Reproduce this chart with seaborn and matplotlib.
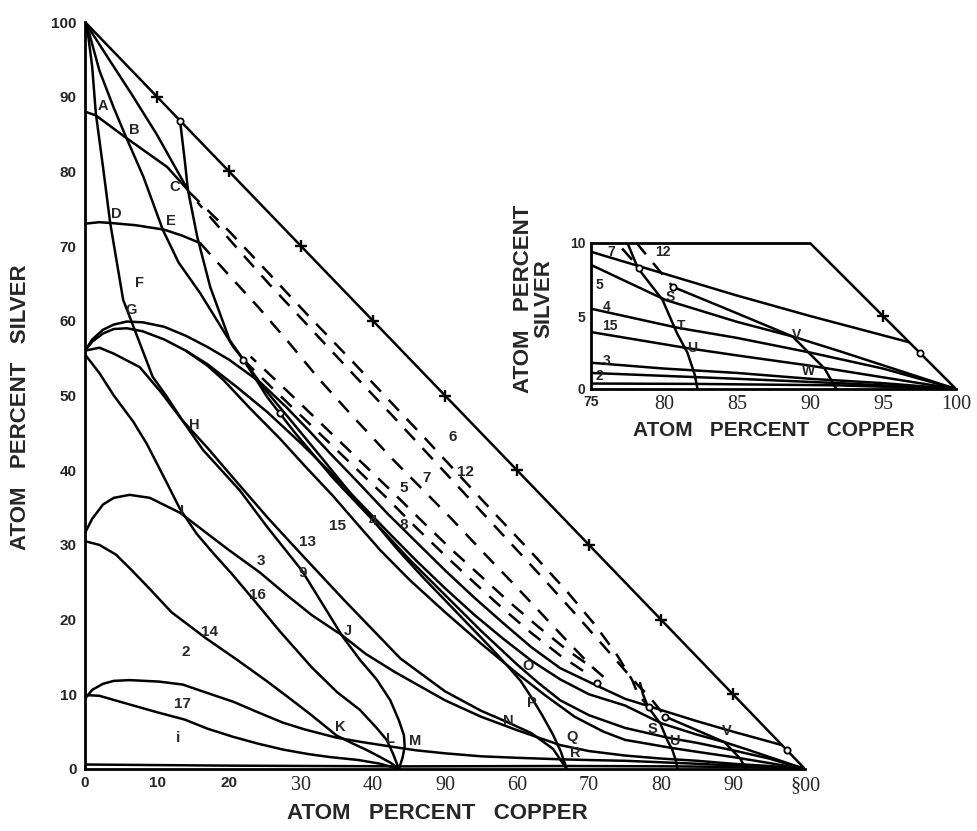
import matplotlib
matplotlib.use("Agg")
import matplotlib.pyplot as plt
import seaborn as sns
import pandas as pd
from matplotlib.font_manager import FontProperties

# ---------------- values (data units: Cu %, Ag %) ----------------
hyp_x = [0, 100]
hyp_y = [100, 0]
hyp_tick_x = [10, 20, 30, 40, 50, 60, 70, 80, 90]
hyp_tick_y = [90, 80, 70, 60, 50, 40, 30, 20, 10]

abc_x = [0, 1.5, 5.7, 11.4, 14.3]
abc_y = [88, 87.5, 84.5, 80.6, 77.5]

de_x = [0, 2, 3.5, 7, 11, 13.5, 16]
de_y = [73, 73.2, 73.1, 72.8, 72.2, 71.4, 70.4]

line0c_x = [0, 3, 6.5, 10, 12.5, 14.3]
line0c_y = [100, 95.5, 90.3, 84.9, 80.6, 77.5]

c9_x = [0, 0.4, 1, 1.5, 2.5, 3.5, 5.3, 6.5, 9.4, 11.4, 13.5, 16.4, 21.5, 25.3, 30.1,
        35.8, 38.2, 40.5, 42.4, 43.6, 44.3, 44.4, 44.1, 43.6]
c9_y = [100, 98.5, 94, 87.8, 80.6, 73.1, 62.8, 59.8, 52.5, 49.8, 46.7, 42.7, 37.3, 32.4, 26.6,
        17.7, 14.6, 12, 9.2, 6.5, 4.5, 3.0, 1.5, 0]

be4_x = [0, 0.5, 2, 4, 5.7, 8.1, 10.8, 13, 16, 18.5, 20.6, 22, 25.3, 29, 34.4, 40, 45.1,
         50, 55, 60, 63, 66, 70, 75, 80.9, 85, 90, 95, 100]
be4_y = [100, 98.8, 93.5, 88.5, 84.6, 79.3, 72.2, 67.8, 63.7, 59.8, 56.5, 54.8, 49.8, 45.2, 39.0,
         33.3, 28.0, 23.3, 18.5, 14.0, 11.5, 9.2, 7.2, 5.5, 4.2, 3.5, 2.5, 1.4, 0]

x2_x = [13.2, 13.9, 14.3, 15.6, 17.4, 20.1, 22, 25, 28.9, 33, 36.8, 40, 43.3, 47, 50, 53, 56,
        58.5, 60.5, 62, 63.5, 65, 66.1, 66.9]
x2_y = [86.8, 81.1, 77.5, 71.2, 64.5, 57.4, 54.8, 50.8, 46.3, 41.5, 37.0, 33.3, 29.5, 25.6, 22.6,
        19.6, 16.6, 14.0, 11.8, 9.6, 7.2, 4.6, 2.3, 0]

f7_x = [0, 1, 2.5, 4, 5.8, 8, 11, 14, 17, 20, 24.3, 28, 31, 34, 38, 42, 46, 50, 54, 58, 62, 66,
        71, 75, 80, 85, 90, 96.8]
f7_y = [56, 57.5, 58.8, 59.5, 59.9, 59.8, 59.2, 58, 56.5, 54.8, 51.8, 48.4, 45.4, 42.3, 38.3, 34.2,
        30.4, 26.6, 23.0, 19.6, 16.3, 13.5, 11.2, 9.4, 7.9, 6.4, 5.0, 3.2]

g5_x = [0, 1, 2.5, 4, 5.8, 8, 11, 14, 17, 21, 25.3, 30, 34, 38, 42, 46, 50, 54, 58, 62, 66, 70,
        75, 80.1, 85, 88.8, 92, 96, 100]
g5_y = [56, 57.2, 58.3, 58.9, 59.0, 58.6, 57.5, 56, 54.2, 51.2, 47.8, 43.6, 39.8, 35.8, 31.8, 27.9,
        24.2, 20.7, 17.5, 14.5, 12.0, 10.0, 8.5, 6.1, 4.6, 3.6, 2.6, 1.3, 0]

c15_x = [14, 17, 19.2, 23, 27.1, 30.5, 34.4, 38, 41, 45.1, 50, 55, 60, 64, 68, 72, 75, 81.6, 85,
         90, 95, 100]
c15_y = [56, 54, 52.1, 48.2, 44.2, 40.6, 36.6, 32.6, 29.3, 25.3, 21.0, 16.8, 12.8, 9.8, 7.0, 5.0,
         3.9, 2.8, 2.3, 1.6, 0.8, 0]

c13_x = [0, 2, 4, 7.6, 10.5, 13.5, 17, 21, 25.5, 29.9, 36, 43.8, 50, 55, 58.6, 62, 65, 66.9]
c13_y = [56, 56.4, 55.6, 53.8, 50.5, 46.7, 43, 38.5, 33.5, 28.9, 22.6, 14.8, 10.4, 7.8, 6.3, 4.8,
         2.7, 0]

c16_x = [0, 2, 4, 6.7, 8.6, 11, 13.2, 15.5, 17.8, 20.5, 23.3, 27, 31.5, 35, 38.2, 40.5, 41.9,
         42.8, 43.6]
c16_y = [55.5, 53, 50, 46.5, 43.5, 39, 34.8, 31.5, 28.9, 26, 22.8, 18.5, 13.6, 10.3, 7.9, 5.5, 3.9,
         2, 0]

c3_x = [0, 1, 2.5, 4, 6.2, 9, 13.2, 17, 20, 24.3, 28, 31.5, 35.7, 39, 43, 50, 55, 60, 66, 70, 75,
        80, 85, 90, 95, 100]
c3_y = [31.6, 33.5, 35.4, 36.3, 36.7, 36.3, 34.3, 31.5, 29.3, 26.3, 23.3, 20.6, 17.9, 15.4, 13.0,
        9.2, 7.0, 5.2, 3.2, 2.4, 1.8, 1.4, 1.1, 0.7, 0.4, 0]

c14_x = [0, 2, 4.3, 6.5, 8.9, 12, 16.8, 21, 25.2, 28.5, 31.2, 33.9, 34.9, 37, 39, 41, 42.5, 43.6]
c14_y = [30.5, 30, 28.7, 26.6, 24.2, 21, 17.5, 14.7, 11.8, 9.4, 7.4, 5.3, 4.5, 3.5, 2.6, 1.6, 0.8, 0]

c2_x = [0, 1, 2.5, 4, 6.2, 10.3, 13.6, 16, 20.6, 24, 27.5, 30.5, 34.9, 38.5, 42.5, 46, 50, 55, 60,
        66, 70, 75, 80, 85, 92, 100]
c2_y = [9.4, 10.6, 11.4, 11.8, 11.9, 11.7, 11.3, 10.5, 9.0, 7.6, 6.2, 5.3, 4.2, 3.6, 3.0, 2.5, 2.1,
        1.7, 1.5, 1.3, 1.2, 1.1, 0.9, 0.7, 0.4, 0]

c17_x = [0, 2, 6.7, 10, 13.9, 17, 20.6, 24, 27.5, 31, 34, 38, 41, 43.6]
c17_y = [9.9, 9.8, 8.5, 7.6, 6.6, 5.4, 4.3, 3.4, 2.6, 2.0, 1.6, 1.2, 0.7, 0]

c1_x = [0, 20, 44, 67, 82, 92, 100]
c1_y = [0.6, 0.45, 0.35, 0.4, 0.35, 0.25, 0]

stu_x = [77.1, 77.5, 78.2, 79.9, 80.9, 81.6, 82.1, 82.3]
stu_y = [11.5, 10, 8.3, 6.1, 3.8, 2.5, 1.0, 0]

vw_x = [80.6, 84, 88.8, 91, 91.8]
vw_y = [7.0, 5.6, 3.6, 1.4, 0]

# dashed curves
d7_x = [14.4, 20, 25, 31, 37.2, 42, 47, 52, 57, 62, 67, 71, 74, 76, 76.8, 78.3]
d7_y = [77.3, 72.0, 66.9, 60.7, 54.5, 49.6, 44.5, 39.3, 34.1, 29.0, 23.7, 19.1, 15.1, 11.9, 10, 8.3]

d12_x = [15.6, 20.5, 25.5, 31.5, 37.6, 42.6, 47.6, 52.6, 57.6, 62.6, 67.6, 72, 75, 77, 78.2, 80.6]
d12_y = [75.9, 70.4, 65.0, 58.8, 52.5, 47.4, 42.2, 37.0, 31.8, 26.6, 21.3, 16.5, 13.2, 11.0, 9.9, 7.0]

d5_x = [16, 20, 24, 28.3, 32.6, 37, 42.8, 46.5, 50.7, 55.8, 59.4, 63.2, 67, 70.5, 73]
d5_y = [70.4, 66.1, 61.9, 57.1, 52.1, 47.4, 41.4, 37.8, 33.7, 28.5, 24.9, 21.0, 17.1, 13.6, 11.5]

d8_x = [22, 26, 30, 34, 38, 42, 46, 50, 54, 58, 62, 66, 70]
d8_y = [54.8, 51.0, 47.3, 43.6, 39.9, 36.2, 32.3, 28.6, 25.0, 21.5, 18.2, 15.2, 12.6]

d8b_x = [23, 27, 31, 35, 39, 43, 47, 51, 55, 59, 63, 67, 71]
d8b_y = [55.2, 51.6, 47.9, 44.2, 40.5, 36.8, 33.0, 29.3, 25.8, 22.3, 19.0, 15.9, 13.2]

# small open circles at junctions
ring_x = [13.2, 22, 27.1, 71.1, 97.5, 78.3, 80.6]
ring_y = [86.8, 54.8, 47.6, 11.5, 2.5, 8.3, 7.0]

# inset tick on the hypotenuse
ins_tick_x = [95]
ins_tick_y = [5]

# labels (text, x, y)
main_letters = ["A", "B", "C", "D", "E", "F", "G", "H", "I", "J", "K", "L", "M", "N", "O", "P",
                "Q", "R", "S", "U", "V"]
main_letter_x = [2.5, 6.8, 12.4, 4.4, 11.9, 7.6, 6.4, 15.2, 13.5, 36.5, 35.4, 42.4, 45.9, 58.8,
                 61.5, 62.1, 67.7, 68.1, 78.8, 81.9, 89.1]
main_letter_y = [88.7, 85.5, 77.9, 74.3, 73.3, 65.0, 61.4, 46.1, 34.5, 18.5, 5.6, 4.0, 3.7, 6.4,
                 13.8, 8.8, 4.3, 2.1, 5.4, 3.7, 5.1]

main_numbers = ["2", "17", "i", "14", "16", "3", "9", "13", "15", "4", "8", "5", "7", "12", "6"]
main_number_x = [14.0, 13.6, 12.9, 17.3, 24.0, 24.4, 30.3, 30.9, 35.0, 40.0, 44.3, 44.2, 47.5,
                 52.9, 51.0]
main_number_y = [15.6, 8.7, 4.2, 18.3, 23.3, 27.9, 26.3, 30.4, 32.5, 33.2, 32.6, 37.6, 39.0, 39.7,
                 44.5]

inset_texts = ["7", "12", "5", "4", "15", "3", "2", "S", "T", "U", "V", "W"]
inset_text_x = [76.4, 79.9, 75.6, 76.1, 76.3, 76.1, 75.6, 80.4, 81.2, 81.9, 89.1, 89.9]
inset_text_y = [9.4, 9.4, 7.1, 5.6, 4.3, 1.9, 0.9, 6.3, 4.3, 2.8, 3.7, 1.2]

main_xtick_pos = [0, 10, 20, 30, 40, 50, 60, 70, 80, 90, 100]
main_xtick_labels = ["0", "10", "20", "30", "40", "90", "60", "70", "80", "90", "\u00a700"]
main_ytick_pos = [0, 10, 20, 30, 40, 50, 60, 70, 80, 90, 100]
main_ytick_labels = ["0", "10", "20", "30", "40", "50", "60", "70", "80", "90", "100"]
ins_xtick_pos = [75, 80, 85, 90, 95, 100]
ins_xtick_labels = ["75", "80", "85", "90", "95", "100"]
ins_ytick_pos = [0, 5, 10]
ins_ytick_labels = ["0", "5", "10"]

# ---------------- build tables ----------------
solid_curves = {
    "hyp": (hyp_x, hyp_y), "ABC": (abc_x, abc_y), "DE": (de_x, de_y),
    "0C": (line0c_x, line0c_y), "9": (c9_x, c9_y), "BE4": (be4_x, be4_y),
    "X2": (x2_x, x2_y), "F7": (f7_x, f7_y), "G5": (g5_x, g5_y), "15": (c15_x, c15_y),
    "13": (c13_x, c13_y), "16": (c16_x, c16_y), "3": (c3_x, c3_y), "14": (c14_x, c14_y),
    "2": (c2_x, c2_y), "17": (c17_x, c17_y), "1": (c1_x, c1_y), "STU": (stu_x, stu_y),
    "VW": (vw_x, vw_y),
}
dashed_a = {"d7": (d7_x, d7_y), "d5": (d5_x, d5_y), "d8": (d8_x, d8_y)}
dashed_b = {"d12": (d12_x, d12_y), "d8b": (d8b_x, d8b_y)}


def to_frame(curves):
    rows = []
    for name, (xs, ys) in curves.items():
        for i, (xv, yv) in enumerate(zip(xs, ys)):
            rows.append((name, i, xv, yv))
    return pd.DataFrame(rows, columns=["curve", "order", "x", "y"])


df_solid = to_frame(solid_curves)
df_dash_a = to_frame(dashed_a)
df_dash_b = to_frame(dashed_b)

# ---------------- drawing ----------------
sns.set_theme(style="white")
plt.rcParams["font.family"] = ["Liberation Sans", "DejaVu Sans"]

fig = plt.figure(figsize=(9.77, 8.31), dpi=100)
ax = fig.add_axes([85 / 977, 62 / 831, 720 / 977, 747 / 831])
axi = fig.add_axes([591 / 977, 442 / 831, 365 / 977, 146 / 831])

sans_bold = dict(family="Liberation Sans", weight="bold")
LW = 1.8

for a in (ax, axi):
    sns.lineplot(data=df_solid, x="x", y="y", units="curve", estimator=None, sort=False,
                 color="black", lw=LW, ax=a, legend=False)
    sns.lineplot(data=df_dash_a, x="x", y="y", units="curve", estimator=None, sort=False,
                 color="black", lw=LW, linestyle=(0, (6, 4.5)), ax=a, legend=False)
    sns.lineplot(data=df_dash_b, x="x", y="y", units="curve", estimator=None, sort=False,
                 color="black", lw=LW, linestyle=(3, (6, 4.5)), ax=a, legend=False)
    a.plot(ring_x, ring_y, ls="none", marker="o", ms=4.5, mfc="white", mec="black", mew=1.3)

ax.plot(hyp_tick_x, hyp_tick_y, ls="none", marker="+", ms=9, mew=1.7, color="black")
axi.plot(ins_tick_x, ins_tick_y, ls="none", marker="+", ms=9, mew=1.7, color="black")

# main axes styling
ax.set_xlim(0, 100)
ax.set_ylim(0, 100)
for s in ("top", "right"):
    ax.spines[s].set_visible(False)
for s in ("left", "bottom"):
    ax.spines[s].set_linewidth(2.0)
    ax.spines[s].set_color("black")
ax.set_xticks(main_xtick_pos)
ax.set_xticklabels(main_xtick_labels)
ax.set_yticks(main_ytick_pos)
ax.set_yticklabels(main_ytick_labels)
ax.tick_params(axis="both", direction="in", length=7, width=1.6, color="black")
ax.tick_params(axis="y", pad=6)
ax.tick_params(axis="x", pad=5)
for i, lab in enumerate(ax.get_xticklabels()):
    if i < 3:
        lab.set_fontproperties(FontProperties(family="Liberation Sans", weight="bold", size=11))
    else:
        lab.set_fontproperties(FontProperties(family="Liberation Serif", size=14.5))
for lab in ax.get_yticklabels():
    lab.set_fontproperties(FontProperties(family="Liberation Sans", weight="bold", size=11))

ax.set_xlabel("ATOM   PERCENT   COPPER", fontsize=16, fontweight="bold", family="Liberation Sans")
ax.set_ylabel("ATOM   PERCENT   SILVER", fontsize=16, fontweight="bold", family="Liberation Sans")
ax.xaxis.set_label_coords(0.49, -0.045)
ax.yaxis.set_label_coords(-0.075, 0.485)

for t, xv, yv in zip(main_letters, main_letter_x, main_letter_y):
    ax.text(xv, yv, t, fontsize=10.5, ha="center", va="center", **sans_bold)
for t, xv, yv in zip(main_numbers, main_number_x, main_number_y):
    ax.text(xv, yv, t, fontsize=11, ha="center", va="center", **sans_bold)

# inset styling
axi.set_xlim(75, 100)
axi.set_ylim(0, 10)
axi.set_facecolor("none")
for s in ("top", "right"):
    axi.spines[s].set_visible(False)
for s in ("left", "bottom"):
    axi.spines[s].set_linewidth(2.0)
    axi.spines[s].set_color("black")
axi.plot([75, 90], [10, 10], color="black", lw=2.0, clip_on=False)
axi.set_xticks(ins_xtick_pos)
axi.set_xticklabels(ins_xtick_labels)
axi.set_yticks(ins_ytick_pos)
axi.set_yticklabels(ins_ytick_labels)
axi.tick_params(axis="both", direction="in", length=5, width=1.4, color="black", pad=4)
for i, lab in enumerate(axi.get_xticklabels()):
    if i == 0:
        lab.set_fontproperties(FontProperties(family="Liberation Sans", weight="bold", size=10))
    else:
        lab.set_fontproperties(FontProperties(family="Liberation Serif", size=14.5))
for lab in axi.get_yticklabels():
    lab.set_fontproperties(FontProperties(family="Liberation Sans", weight="bold", size=10))
axi.set_xlabel("ATOM   PERCENT   COPPER", fontsize=15, fontweight="bold", family="Liberation Sans")
axi.set_ylabel("ATOM   PERCENT\nSILVER", fontsize=16, fontweight="bold", family="Liberation Sans",
               linespacing=0.95)
axi.xaxis.set_label_coords(0.5, -0.22)
axi.yaxis.set_label_coords(-0.10, 0.62)
for t, xv, yv in zip(inset_texts, inset_text_x, inset_text_y):
    axi.text(xv, yv, t, fontsize=10, ha="center", va="center", **sans_bold)

fig.savefig("out.png", dpi=100, facecolor="white")
